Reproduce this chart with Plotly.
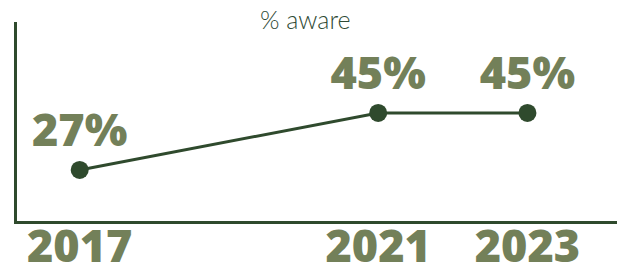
import plotly.graph_objects as go

years = [2017, 2021, 2023]
aware = [27, 45, 45]
labels = ["27%", "45%", "45%"]
tick_labels = ["2017", "2021", "2023"]
title_text = "% aware"

dark = "#2f4a2d"
olive = "#738059"

fig = go.Figure()
fig.add_trace(go.Scatter(
    x=years, y=aware, mode="lines+markers+text",
    text=labels, textposition="top center",
    textfont=dict(family="Open Sans", size=45, color=olive, weight=800),
    line=dict(color=dark, width=3),
    marker=dict(color=dark, size=18),
    cliponaxis=False, hoverinfo="skip",
))

fig.update_layout(
    width=617, height=259,
    margin=dict(l=9, r=8, t=14, b=46, autoexpand=False),
    paper_bgcolor="white", plot_bgcolor="white",
    showlegend=False,
    xaxis=dict(range=[2016.16, 2024.2], tickvals=years, ticktext=tick_labels,
               showgrid=False, zeroline=False, showline=True, linecolor=dark, linewidth=3,
               ticks="", ticklen=0, automargin=False, ticklabelstandoff=-16,
               tickfont=dict(family="Open Sans", size=45, color=olive, weight=800)),
    yaxis=dict(range=[10.9, 73.7], showgrid=False, zeroline=False, showline=True,
               linecolor=dark, linewidth=3, showticklabels=False, ticks="", automargin=False),
)
fig.add_annotation(text=title_text, xref="paper", yref="paper", x=(305 - 17) / 600, y=1.0,
                   yanchor="middle", xanchor="center", showarrow=False, yshift=3,
                   font=dict(family="Lato", size=25, color="#2f4a35", weight=300))

fig.write_html("out.html")
